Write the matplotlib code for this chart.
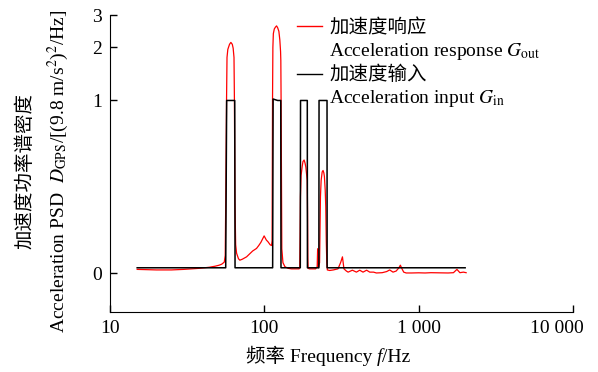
import matplotlib
matplotlib.use("Agg")
import matplotlib.pyplot as plt
import matplotlib.transforms as mtransforms
import numpy as np
from matplotlib.lines import Line2D

plt.rcParams['font.family'] = ['Liberation Serif', 'Noto Sans CJK SC']
plt.rcParams['mathtext.fontset'] = 'stix'
plt.rcParams['font.size'] = 14

# Eingang (schwarz): Frequenz / PSD
f_in = [15, 56.2, 57.0, 64.3, 64.6, 113.2, 114.0, 122, 127.8, 128.2,
        171.0, 171.6, 189.8, 190.2, 225.6, 226.2, 254.8, 255.2, 2000]
g_in = [0.01, 0.01, 1.0, 1.0, 0.01, 0.01, 1.02, 1.0, 1.0, 0.01,
        0.01, 1.0, 1.0, 0.01, 0.01, 1.0, 1.0, 0.01, 0.01]

# Antwort (rot)
f_out = [15, 20, 25, 30, 38, 44, 48, 51, 53, 55, 55.8, 56.4, 56.9, 57.3, 58.0,
         59.5, 60.7, 62.0, 62.8, 63.6, 64.0, 64.5, 65.2, 66.1, 68, 69.4, 72,
         76.7, 80, 84, 89, 92, 95, 99.7, 103, 105.8, 109, 111.3, 112.3, 113.0,
         113.6, 114.4, 116, 118, 120, 122, 124.2, 126, 127.4, 127.9, 128.4,
         129.8, 132, 136, 142.6, 150, 160, 168, 169.6, 170.5, 171.4, 173, 176,
         178, 181, 183.5, 185.8, 188, 189.6, 190.6, 191.4, 192.2, 196, 205, 215,
         220, 221.5, 222.5, 224, 228, 230, 231, 233.4, 237, 240.2, 243, 245,
         248, 250, 252, 254, 256, 265, 280, 300, 312, 320.7, 328, 340, 349,
         372, 395, 415, 436, 460, 482, 510, 532, 580, 620, 649, 682, 715, 745,
         761, 780, 800, 830, 900, 1000, 1100, 1200, 1300, 1400, 1550, 1680,
         1770, 1850, 1950, 2030]
g_out = [0.007, 0.006, 0.006, 0.007, 0.009, 0.011, 0.013, 0.015, 0.017, 0.021,
         0.035, 0.3, 1.0, 1.76, 1.95, 2.08, 2.13, 2.08, 1.98, 1.76, 1.0, 0.2,
         0.06, 0.04, 0.028, 0.025, 0.027, 0.032, 0.038, 0.045, 0.051, 0.058,
         0.066, 0.083, 0.072, 0.067, 0.06, 0.058, 0.07, 1.0, 2.0, 2.38, 2.52,
         2.58, 2.62, 2.56, 2.45, 2.2, 1.9, 1.69, 1.0, 0.05, 0.02, 0.012, 0.009,
         0.008, 0.008, 0.008, 0.012, 0.08, 0.22, 0.325, 0.38, 0.41, 0.42, 0.40,
         0.374, 0.33, 0.298, 0.154, 0.03, 0.009, 0.008, 0.008, 0.008, 0.012,
         0.05, 0.015, 0.01, 0.02, 0.154, 0.22, 0.298, 0.345, 0.354, 0.34, 0.32,
         0.25, 0.18, 0.068, 0.02, 0.006, 0.005, 0.006, 0.008, 0.02, 0.032, 0.008,
         0.004, 0.002, 0.0055, 0.002, 0.0055, 0.002, 0.0055, 0.002, 0.002,
         0.0005, 0.001, 0.003, 0.006, 0.002, 0.004, 0.01, 0.015, 0.008, 0.002,
         0.0005, 0.0005, 0.0008, 0.0005, 0.001, 0.0008, 0.0005, 0.0005, 0.001,
         0.007, 0.001, 0.002, 0.001]

xticks = [10, 100, 1000, 10000]
xticklabels = ['10', '100', '1 000', '10 000']
yticks = [0, 1, 2, 3]

c = 0.15
def fwd(y):
    return np.log10(np.maximum(np.asarray(y) + c, 1e-6))
def inv(y):
    return 10 ** np.asarray(y) - c

fig = plt.figure(figsize=(5.98, 3.72), dpi=100)
ax = fig.add_axes([110/598, 1-312/372, 463/598, 297/372])

ax.plot(f_out, g_out, color='red', lw=0.9)
ax.plot(f_in, g_in, color='black', lw=1.1)

ax.set_xscale('log')
ax.set_yscale('function', functions=(fwd, inv))
ax.set_xlim(10, 10000)
ax.set_ylim(-0.055, 3)

ax.set_xticks(xticks)
ax.set_xticklabels(xticklabels)
ax.xaxis.set_minor_locator(matplotlib.ticker.NullLocator())
ax.set_yticks(yticks)
ax.set_yticklabels([str(v) for v in yticks])
ax.yaxis.set_minor_locator(matplotlib.ticker.NullLocator())
ax.tick_params(direction='in', length=5, width=1, pad=6)

# letzte Beschriftung etwas nach links
lab = ax.get_xticklabels()[-1]
lab.set_transform(lab.get_transform() +
                  mtransforms.ScaledTranslation(-0.16, 0, fig.dpi_scale_trans))

ax.spines['top'].set_visible(False)
ax.spines['right'].set_visible(False)

# Legende
handles = [Line2D([], [], color='red', lw=1),
           Line2D([], [], color='none'),
           Line2D([], [], color='black', lw=1),
           Line2D([], [], color='none')]
labels = ['加速度响应', r'Acceleration response $G_{\rm out}$',
          '加速度输入', r'Acceleration input $G_{\rm in}$']
ax.legend(handles, labels, loc='upper left', bbox_to_anchor=(0.387, 1.013),
          frameon=False, handlelength=1.3, handletextpad=0.35,
          labelspacing=0.2, fontsize=14, borderaxespad=0)

fig.text(25/598, 1-171/372, '加速度功率谱密度', rotation=90,
         ha='center', va='center', fontsize=14)
fig.text(58/598, 1-171/372,
         r'Acceleration PSD  $D_{\rm GPS}$/[(9.8 m/s$^2$)$^2$/Hz]',
         rotation=90, ha='center', va='center', fontsize=14)

# x-Beschriftung aus drei Teilen (CJK + kursives f)
r = fig.canvas.get_renderer()
parts = [('频率 Frequency ', 'normal'), ('f', 'italic'), ('/Hz', 'normal')]
texts = [fig.text(0, 1-362/372, s, style=st, fontsize=14, va='baseline')
         for s, st in parts]
widths = [t.get_window_extent(r).width for t in texts]
x0 = 328 - sum(widths) / 2
for t, w in zip(texts, widths):
    t.set_x(x0 / 598)
    x0 += w

fig.savefig('out.png', dpi=100)
